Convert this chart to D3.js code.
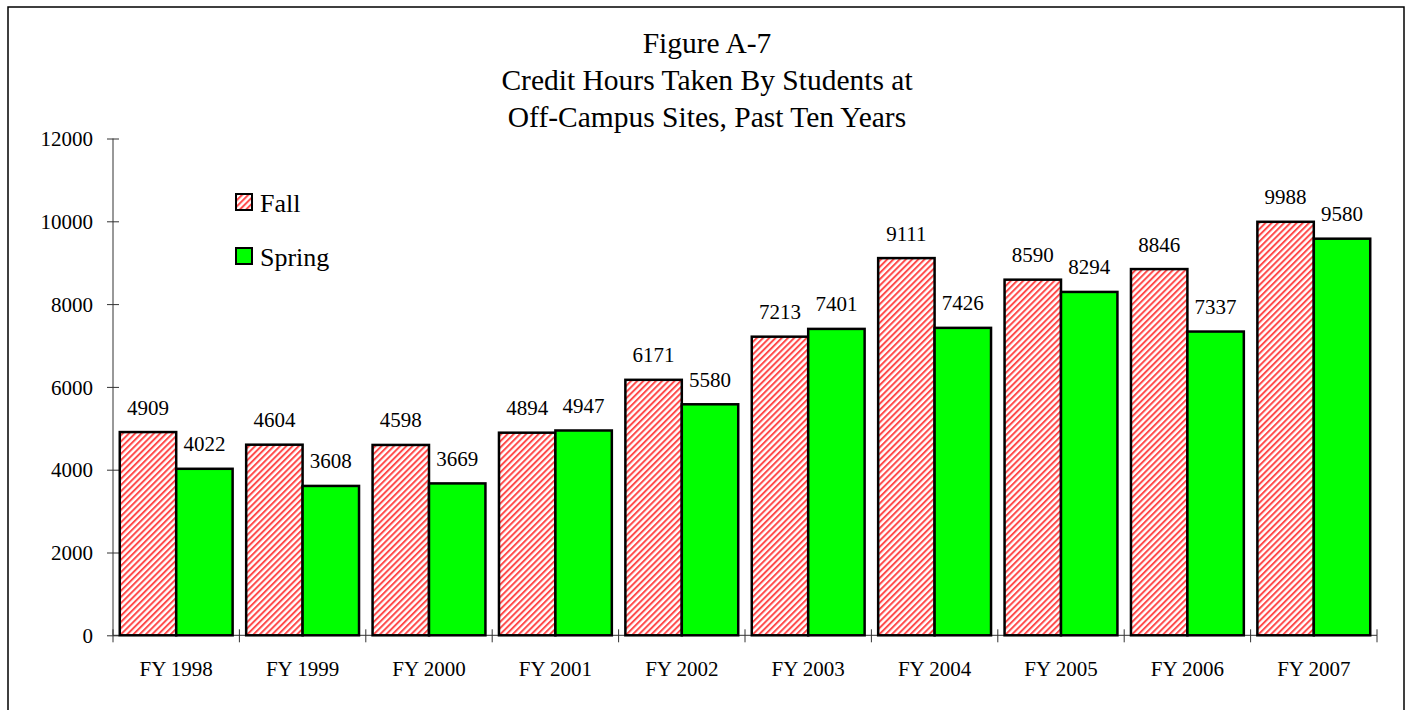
<!DOCTYPE html>
<html>
<head>
<meta charset="utf-8">
<script src="https://cdn.jsdelivr.net/npm/d3@7"></script>
<style>
  html, body { margin: 0; padding: 0; background: #fff; }
  svg { display: block; }
  text { font-family: "Liberation Serif", "Times New Roman", serif; fill: #000; }
</style>
</head>
<body>
<svg id="chart" width="1414" height="710"></svg>
<script>
const categories = ["FY 1998","FY 1999","FY 2000","FY 2001","FY 2002","FY 2003","FY 2004","FY 2005","FY 2006","FY 2007"];
const fallValues = [4909, 4604, 4598, 4894, 6171, 7213, 9111, 8590, 8846, 9988];
const springValues = [4022, 3608, 3669, 4947, 5580, 7401, 7426, 8294, 7337, 9580];
const seriesNames = ["Fall", "Spring"];
const yTicks = [0, 2000, 4000, 6000, 8000, 10000, 12000];
const titleLines = ["Figure A-7", "Credit Hours Taken By Students at", "Off-Campus Sites, Past Ten Years"];

(function () {
const svg = d3.select("#chart");

// outer border
svg.append("rect").attr("x", 8).attr("y", 7).attr("width", 1396).attr("height", 720)
  .attr("fill", "none").attr("stroke", "#000").attr("stroke-width", 1.5);

// hatch pattern
const defs = svg.append("defs");
const pat = defs.append("pattern").attr("id", "hatch")
  .attr("patternUnits", "userSpaceOnUse").attr("width", 4.4).attr("height", 4.4)
  .attr("patternTransform", "rotate(45)");
pat.append("rect").attr("width", 4.4).attr("height", 4.4).attr("fill", "#fff");
pat.append("rect").attr("x", 0).attr("y", 0).attr("width", 2).attr("height", 4.4).attr("fill", "#ff4a4a");

const pLeft = 113, pRight = 1377, pTop = 138.5, pBottom = 635.3;

const x0 = d3.scaleBand().domain(categories).range([pLeft, pRight]).padding(0);
const x1 = d3.scaleBand().domain(seriesNames).range([0, x0.bandwidth()]).paddingInner(0).paddingOuter(0.12);
const y = d3.scaleLinear().domain([0, 12000]).range([pBottom, pTop]);

// title
const title = svg.append("text").attr("text-anchor", "middle").style("font-size", "29.5px");
titleLines.forEach((t, i) => {
  title.append("tspan").attr("x", 707).attr("y", 53.3 + i * 37).text(t);
});

// y axis
const yAxis = svg.append("g").attr("transform", `translate(${pLeft},0)`)
  .call(d3.axisLeft(y).tickValues(yTicks).tickSize(6).tickPadding(14).tickFormat(d3.format("d")));
yAxis.attr("font-family", null);
yAxis.select(".domain").attr("stroke", "#333").attr("d", `M0,${pTop}V${pBottom}`);
yAxis.selectAll(".tick line").attr("stroke", "#333").attr("x1", -6).attr("x2", 6);
yAxis.selectAll(".tick text").style("font-size", "21px").attr("dy", "0.34em");

// x axis
const xAxis = svg.append("g").attr("transform", `translate(0,${pBottom})`)
  .call(d3.axisBottom(x0).tickSize(0).tickPadding(26));
xAxis.attr("font-family", null);
xAxis.select(".domain").attr("stroke", "#333").attr("d", `M${pLeft},0H${pRight}`);
xAxis.selectAll(".tick text").style("font-size", "21px");
const bounds = categories.map(c => x0(c)).concat([pRight]);
xAxis.selectAll(".bound").data(bounds).join("line").attr("class", "bound")
  .attr("x1", d => d).attr("x2", d => d).attr("y1", -6).attr("y2", 7)
  .attr("stroke", "#333").attr("stroke-width", 1);

// bars
const data = categories.map((c, i) => ({ cat: c, vals: [
  { s: "Fall", v: fallValues[i] }, { s: "Spring", v: springValues[i] }] }));
const fills = { Fall: "url(#hatch)", Spring: "#00ff00" };

const groups = svg.append("g").selectAll("g").data(data).join("g")
  .attr("transform", d => `translate(${x0(d.cat)},0)`);
groups.selectAll("rect").data(d => d.vals).join("rect")
  .attr("x", d => x1(d.s)).attr("width", x1.bandwidth())
  .attr("y", d => y(d.v)).attr("height", d => pBottom - y(d.v))
  .attr("fill", d => fills[d.s]).attr("stroke", "#000").attr("stroke-width", 2.5);
groups.selectAll("text").data(d => d.vals).join("text")
  .attr("x", d => x1(d.s) + x1.bandwidth() / 2)
  .attr("y", d => y(d.v) - 17.5)
  .attr("text-anchor", "middle").style("font-size", "21px")
  .text(d => d.v);

// legend
const legend = svg.append("g");
seriesNames.forEach((s, i) => {
  const ly = 194 + i * 54;
  legend.append("rect").attr("x", 236).attr("y", ly).attr("width", 16).attr("height", 16)
    .attr("fill", fills[s]).attr("stroke", "#000").attr("stroke-width", 2);
  legend.append("text").attr("x", 260).attr("y", ly + 18).style("font-size", "26px").text(s);
});
})();
</script>
</body>
</html>
